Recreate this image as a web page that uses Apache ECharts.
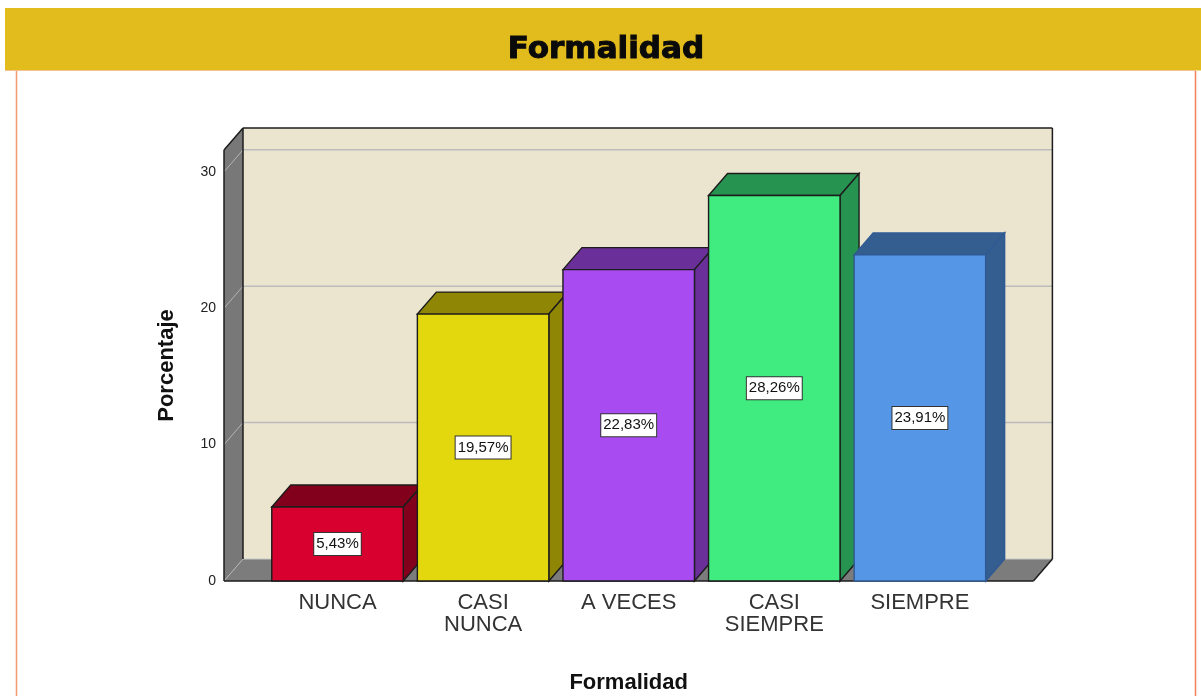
<!DOCTYPE html>
<html>
<head>
<meta charset="utf-8">
<title>Formalidad</title>
<style>
  html, body { margin: 0; padding: 0; background: #fff; }
  #chart { width: 1201px; height: 696px; }
</style>
<script src="https://cdn.jsdelivr.net/npm/echarts@6/dist/echarts.min.js"></script>
</head>
<body>
<div id="chart"></div>
<script>
var categories = ["NUNCA", "CASI\nNUNCA", "A VECES", "CASI\nSIEMPRE", "SIEMPRE"];
var porcentajes = [5.43, 19.57, 22.83, 28.26, 23.91];
var yTicks = [0, 10, 20, 30];

var frontColors = ["#d7002e", "#e3d70d", "#a84cf2", "#40ec80", "#5596e6"];
var sideColors = ["#82001c", "#8f8605", "#6a2f98", "#269350", "#345d90"];
var edgeColors = ["#1c1c1c", "#1c1c1c", "#1c1c1c", "#1c1c1c", "#2f5a94"];

var DX = 19;
var DY = 22;
var SIDE_PAD = 40.7; // floor sticks out past the category band
var EDGE = "#1c1c1c";

function poly(points, fill, stroke, width) {
  return {
    type: "polygon",
    shape: { points: points },
    style: { fill: fill, stroke: stroke || null, lineWidth: width || 0 }
  };
}

function seg(x1, y1, x2, y2, color, width) {
  return {
    type: "line",
    shape: { x1: x1, y1: y1, x2: x2, y2: y2 },
    style: { stroke: color, lineWidth: width || 1, fill: null }
  };
}

// back wall, left wall, floor and the gridlines that run over them
function renderWall(params, api) {
  var cs = params.coordSys;
  var l = cs.x - SIDE_PAD;
  var r = cs.x + cs.width + SIDE_PAD;
  var b = cs.y + cs.height;
  var t = cs.y;
  var kids = [
    poly([[l + DX, t - DY], [r + DX, t - DY], [r + DX, b - DY], [l + DX, b - DY]], "#ebe5d0"),
    poly([[l, t], [l + DX, t - DY], [l + DX, b - DY], [l, b]], "#787878"),
    poly([[l, b], [l + DX, b - DY], [r + DX, b - DY], [r, b]], "#7c7c7c")
  ];
  yTicks.forEach(function (v) {
    var y = api.coord([0, v])[1];
    kids.push(seg(l, y, l + DX, y - DY, "#b4b4b4", 1));
    if (v > 0) kids.push(seg(l + DX, y - DY, r + DX, y - DY, "#bbbbbb", 1.5));
  });
  kids.push(seg(l + DX, b - DY, r + DX, b - DY, "#c8c8c8", 1));
  kids.push(seg(l + DX, t - DY, l + DX, b - DY, EDGE, 1.5));
  kids.push(seg(l, t, l, b, EDGE, 1.5));
  kids.push(seg(l, t, l + DX, t - DY, EDGE, 1.5));
  kids.push(seg(l + DX, t - DY, r + DX, t - DY, EDGE, 1.5));
  kids.push(seg(r + DX, t - DY, r + DX, b - DY, EDGE, 1.5));
  kids.push(seg(r + DX, b - DY, r, b, EDGE, 1.5));
  kids.push(seg(l, b, r, b, EDGE, 1.5));
  return { type: "group", children: kids };
}

function renderBar(params, api) {
  var i = api.value(0);
  var val = api.value(1);
  var bw = api.size([1, 0])[0] * 0.903;
  var top = api.coord([i, val]);
  var base = api.coord([i, 0]);
  var x0 = top[0] - bw / 2;
  var x1 = top[0] + bw / 2;
  var y0 = top[1];
  var y1 = base[1];
  var edge = edgeColors[i];
  return {
    type: "group",
    children: [
      poly([[x0, y0], [x0 + DX, y0 - DY], [x1 + DX, y0 - DY], [x1, y0]], sideColors[i], edge, 1.4),
      poly([[x1, y0], [x1 + DX, y0 - DY], [x1 + DX, y1 - DY], [x1, y1]], sideColors[i], edge, 1.4),
      poly([[x0, y0], [x1, y0], [x1, y1], [x0, y1]], frontColors[i], edge, 1.4),
      {
        type: "text",
        x: top[0],
        y: (y0 + y1) / 2,
        style: {
          text: val.toFixed(2).replace(".", ",") + "%",
          fontFamily: "Liberation Sans",
          fontSize: 15,
          fill: "#111",
          align: "center",
          verticalAlign: "middle",
          backgroundColor: "#fff",
          borderColor: "#333",
          borderWidth: 1,
          padding: [4, 2, 3, 2]
        }
      }
    ]
  };
}

var myChart = echarts.init(document.getElementById("chart"));

myChart.setOption({
  animation: false,
  backgroundColor: "#fff",
  title: {
    text: "Formalidad",
    left: 601,
    top: 29,
    textAlign: "center",
    textStyle: {
      fontFamily: "DejaVu Sans",
      fontWeight: "bold",
      fontSize: 31,
      color: "#0a0a0a",
      textBorderColor: "#0a0a0a",
      textBorderWidth: 1
    }
  },
  graphic: [
    { type: "rect", z: -1, shape: { x: 5, y: 8, width: 1196, height: 62.5 }, style: { fill: "#e1bc1c" } },
    { type: "line", z: -1, shape: { x1: 5, y1: 70.5, x2: 1196, y2: 70.5 }, style: { stroke: "#f7c08f", lineWidth: 1 } },
    { type: "line", z: -1, shape: { x1: 16.5, y1: 71, x2: 16.5, y2: 696 }, style: { stroke: "#f29a70", lineWidth: 1.5 } },
    { type: "line", z: -1, shape: { x1: 1195.5, y1: 71, x2: 1195.5, y2: 696 }, style: { stroke: "#f2805a", lineWidth: 1.5 } }
  ],
  grid: { left: 264.7, top: 150, width: 728, height: 431, outerBoundsMode: "none" },
  xAxis: {
    type: "category",
    data: categories,
    name: "Formalidad",
    nameLocation: "middle",
    nameGap: 91,
    nameTextStyle: { fontFamily: "Liberation Sans", fontWeight: "bold", fontSize: 22, color: "#111" },
    axisLine: { show: false },
    axisTick: { show: false },
    axisLabel: {
      interval: 0,
      margin: 11,
      fontFamily: "Liberation Sans",
      fontSize: 22,
      lineHeight: 22,
      color: "#333"
    }
  },
  yAxis: {
    type: "value",
    min: 0,
    max: 31.6,
    interval: 10,
    offset: SIDE_PAD,
    name: "Porcentaje",
    nameLocation: "middle",
    nameGap: 46,
    nameTextStyle: { fontFamily: "Liberation Sans", fontWeight: "bold", fontSize: 22, color: "#111" },
    axisLine: { show: false },
    axisTick: { show: false },
    splitLine: { show: false },
    axisLabel: {
      showMaxLabel: false,
      margin: 8,
      fontFamily: "Liberation Sans",
      fontSize: 14,
      color: "#222"
    }
  },
  series: [
    {
      type: "custom",
      name: "pared",
      z: 1,
      silent: true,
      renderItem: renderWall,
      data: [[0, 0]]
    },
    {
      type: "custom",
      name: "Porcentaje",
      z: 3,
      renderItem: renderBar,
      encode: { x: 0, y: 1 },
      data: porcentajes.map(function (v, i) { return [i, v]; })
    }
  ]
});
</script>
</body>
</html>
